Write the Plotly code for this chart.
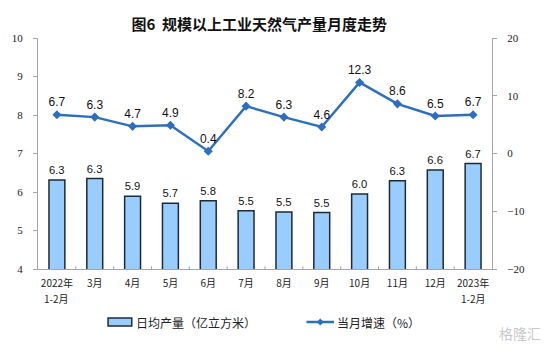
import plotly.graph_objects as go

categories = ["2022年", "3月", "4月", "5月", "6月", "7月", "8月", "9月", "10月", "11月", "12月", "2023年"]
sub_labels = {0: "1-2月", 11: "1-2月"}
daily_output = [6.31, 6.35, 5.89, 5.71, 5.77, 5.51, 5.48, 5.47, 5.95, 6.29, 6.57, 6.74]
growth = [6.7, 6.3, 4.7, 4.9, 0.4, 8.2, 6.3, 4.6, 12.3, 8.6, 6.5, 6.7]
left_ticks = [4, 5, 6, 7, 8, 9, 10]
right_ticks = [-20, -10, 0, 10, 20]
bar_name = "日均产量（亿立方米）"
line_name = "当月增速（%）"

BAR_FILL = "#99CCFF"
BAR_EDGE = "#1F2A36"
LINE_C = "#2E6EBE"

x_idx = list(range(len(categories)))

fig = go.Figure()
fig.add_trace(go.Bar(
    x=x_idx, y=daily_output, name=bar_name,
    marker=dict(color=BAR_FILL, line=dict(color=BAR_EDGE, width=1.5)),
    width=0.42,
    text=[f"{v:.1f}" for v in daily_output], textposition="outside",
    textfont=dict(family="Liberation Sans, Arial", size=12, color="#111111"),
    cliponaxis=False,
))
fig.add_trace(go.Scatter(
    x=x_idx, y=growth, name=line_name, yaxis="y2",
    mode="lines+markers+text",
    line=dict(color=LINE_C, width=2.5),
    marker=dict(symbol="diamond", size=7, color=LINE_C),
    text=[f"{v:.1f}" for v in growth], textposition="top center",
    textfont=dict(family="Liberation Sans, Arial", size=12, color="#111111"),
    cliponaxis=False,
))

fig.update_layout(
    width=554, height=353,
    margin=dict(l=33, r=62, t=38, b=84),
    paper_bgcolor="white", plot_bgcolor="white",
    title=dict(text="图6  规模以上工业天然气产量月度走势", x=0.468, xanchor="center", y=0.93, yanchor="middle",
               font=dict(family="Noto Sans CJK SC", size=15, color="#111111", weight="bold")),
    xaxis=dict(
        tickmode="array", tickvals=x_idx, ticktext=categories,
        range=[-0.5, len(categories) - 0.5],
        showline=True, linecolor="#A6A6A6", linewidth=1,
        ticks="", showgrid=False, zeroline=False,
        tickfont=dict(family="Noto Sans CJK SC", size=10, color="#222222"),
        ticklabelstandoff=5,
    ),
    yaxis=dict(
        range=[4, 10], tickvals=left_ticks,
        showline=True, linecolor="#A6A6A6", linewidth=1,
        ticks="outside", ticklen=4, tickcolor="#A6A6A6",
        showgrid=False, zeroline=False,
        tickfont=dict(family="Liberation Serif, Times New Roman", size=11, color="#222222"),
        ticklabelstandoff=8,
    ),
    yaxis2=dict(
        range=[-20, 20], tickvals=right_ticks, overlaying="y", side="right",
        showline=True, linecolor="#A6A6A6", linewidth=1,
        ticks="outside", ticklen=4, tickcolor="#A6A6A6",
        showgrid=False, zeroline=False,
        tickfont=dict(family="Liberation Serif, Times New Roman", size=11, color="#222222"),
        ticklabelstandoff=8,
    ),
    showlegend=False,
    bargap=0.5,
)

for i, lab in sub_labels.items():
    fig.add_annotation(text=lab, xref="x", yref="paper", x=i, y=-0.087, yanchor="top", showarrow=False,
                       font=dict(family="Noto Sans CJK SC", size=10, color="#222222"))

# minor inside ticks between categories on the bottom axis
for i in range(1, len(categories)):
    fig.add_shape(type="line", xref="x", yref="paper", x0=i - 0.5, x1=i - 0.5, y0=0, y1=0.012,
                  line=dict(color="#A6A6A6", width=1))

# custom legend (pixel positions converted to paper coordinates)
L, T, PW, PH = 33, 38, 460, 231
def px(x):
    return (x - L) / PW
def py(y):
    return (T + PH - y) / PH

fig.add_shape(type="rect", xref="paper", yref="paper", x0=px(104), x1=px(128), y0=py(326), y1=py(318),
              fillcolor=BAR_FILL, line=dict(color=BAR_EDGE, width=1.5))
fig.add_annotation(text=bar_name, xref="paper", yref="paper", x=px(130), y=py(322), xanchor="left",
                   yanchor="middle", showarrow=False,
                   font=dict(family="Noto Sans CJK SC", size=12, color="#222222"))
fig.add_shape(type="line", xref="paper", yref="paper", x0=px(305), x1=px(333), y0=py(322), y1=py(322),
              line=dict(color=LINE_C, width=2.5))
fig.add_shape(type="path", xref="paper", yref="paper",
              path=f"M {px(319)} {py(318.5)} L {px(322.5)} {py(322)} L {px(319)} {py(325.5)} L {px(315.5)} {py(322)} Z",
              fillcolor=LINE_C, line=dict(color=LINE_C, width=0))
fig.add_annotation(text=line_name, xref="paper", yref="paper", x=px(334), y=py(322), xanchor="left",
                   yanchor="middle", showarrow=False,
                   font=dict(family="Noto Sans CJK SC", size=12, color="#222222"))

fig.add_annotation(text="格隆汇", xref="paper", yref="paper", x=px(545), y=py(333), xanchor="right",
                   yanchor="middle", showarrow=False,
                   font=dict(family="Noto Sans CJK SC", size=14, color="#C8C8C8"))

fig.write_html("out.html")
